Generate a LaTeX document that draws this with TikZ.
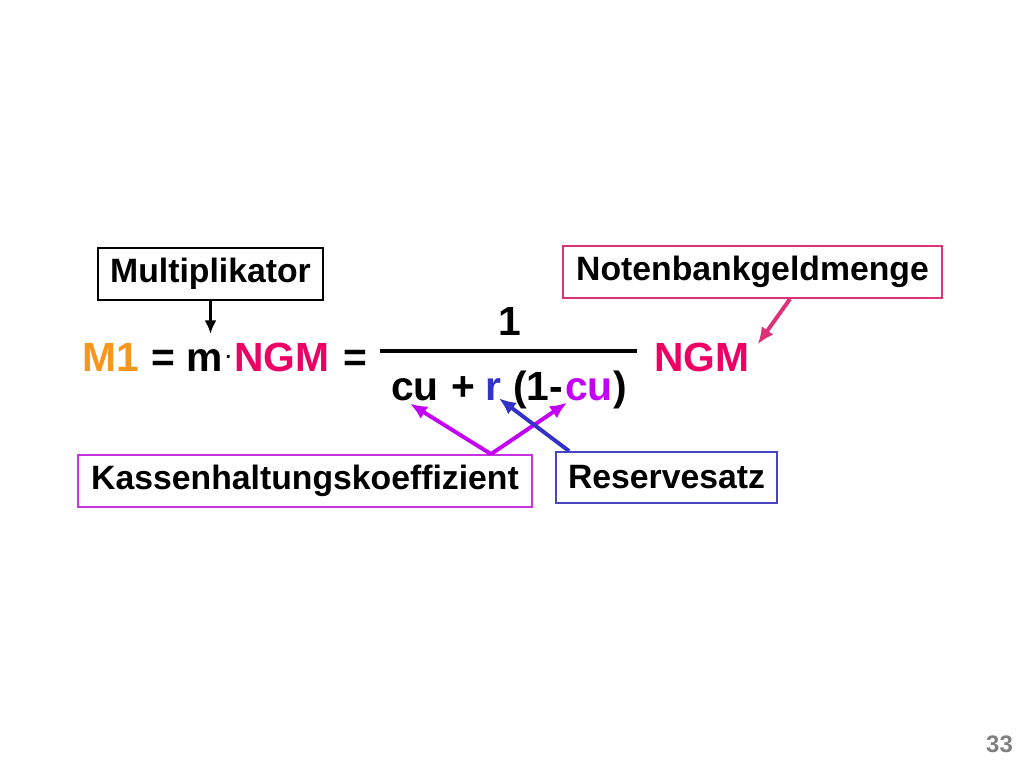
\documentclass[tikz,border=0pt]{standalone}
\usepackage{fontspec}
\setmainfont{Liberation Sans}
\usetikzlibrary{arrows.meta,calc}
\definecolor{mone}{RGB}{247,150,30}
\definecolor{ngmred}{RGB}{236,0,100}
\definecolor{rblue}{RGB}{50,50,200}
\definecolor{cupurple}{RGB}{195,0,245}
\definecolor{notenframe}{RGB}{222,50,120}
\definecolor{kasseframe}{RGB}{200,50,225}
\definecolor{reserveframe}{RGB}{70,70,190}
\begin{document}
\begin{tikzpicture}[x=0.025cm,y=-0.025cm,
    fml/.style={inner sep=0pt,anchor=base west,font=\bfseries\fontsize{29}{34}\selectfont},
    labelbox/.style={draw,line width=1.3pt,inner sep=0pt,font=\bfseries\fontsize{24}{28}\selectfont},
    pointer/.style={line width=2.8pt,-{Latex[length=0.42cm,width=0.36cm]}}]
  \useasboundingbox (0,0) rectangle (1024,768);
  % formula, top row
  \node[fml,text=mone] (mone) at (82,371) {M1};
  \node[fml] (eqone) at (151,371) {=};
  \node[fml] (m) at (186,371) {m};
  \node[inner sep=0pt,font=\bfseries\fontsize{14}{16}\selectfont] (dot) at (229,359) {·};
  \node[fml,text=ngmred] (ngma) at (234,371) {NGM};
  \node[fml] (eqtwo) at (343,371) {=};
  % fraction
  \node[fml,anchor=base] (one) at (510,335) {1};
  \coordinate (fl) at (380,351);
  \coordinate (fr) at (637,351);
  \draw[line width=2.4pt] (fl) -- (fr);
  \node[fml] (cuone) at (391,400) {cu};
  \node[fml] (plus) at (451,400) {+};
  \node[fml,text=rblue] (rate) at (485.5,400) {r};
  \node[fml] (paren) at (513,400) {(1-};
  \node[fml,text=cupurple] (cutwo) at (565,400) {cu};
  \node[fml] (close) at (613,400) {)};
  \node[fml,text=ngmred] (ngmb) at (654,371) {NGM};
  % label boxes
  \node[labelbox,minimum width=5.625cm,minimum height=1.3cm] (mult) at (210.5,274) {Multiplikator};
  \node[labelbox,draw=notenframe,minimum width=9.475cm,minimum height=1.3cm] (noten) at (752.5,272) {Notenbankgeldmenge};
  \node[labelbox,draw=kasseframe,minimum width=11.35cm,minimum height=1.3cm] (kasse) at (305,481) {Kassenhaltungskoeffizient};
  \node[labelbox,draw=reserveframe,minimum width=5.525cm,minimum height=1.275cm] (reserve) at (666.5,477.5) {Reservesatz};
  % arrows
  \draw[line width=2pt,-{Latex[length=0.34cm,width=0.3cm]}] (mult.south) -- ($(mult.south)+(0,33)$);
  \draw[pointer,notenframe] ($(noten.south)+(37.5,0)$) -- ($(ngmb.north east)+(8,2)$);
  \draw[pointer,cupurple] ($(kasse.north east)+(-42,0)$) -- ($(cuone.south)+(-5,3)$);
  \draw[pointer,cupurple] ($(kasse.north east)+(-42,0)$) -- ($(cutwo.south west)+(2,2)$);
  \draw[pointer,rblue] ($(reserve.north west)+(14,0)$) -- ($(rate.south east)+(-3,-2)$);
  % page number
  \node[inner sep=0pt,text=gray,font=\bfseries\fontsize{17}{20}\selectfont] (page) at (999.5,744) {33};
\end{tikzpicture}
\end{document}
